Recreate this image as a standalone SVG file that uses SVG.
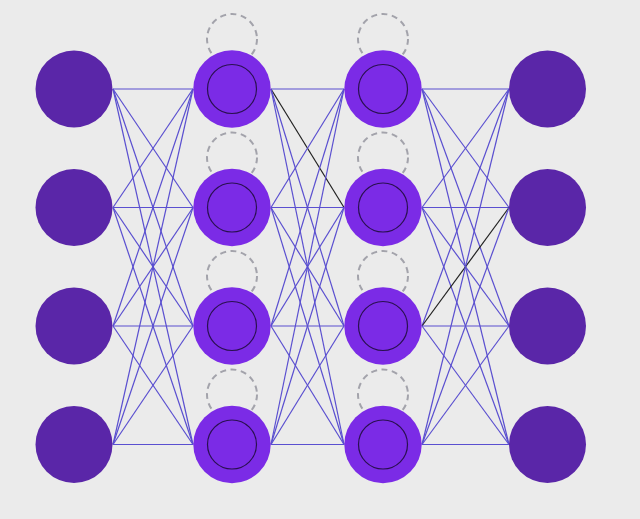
<svg xmlns="http://www.w3.org/2000/svg" width="640" height="519" viewBox="0 0 640 519">
<style>
.bg{fill:#ebebeb}
.io{fill:#5a26a8}
.hid{fill:#7b2be6}
.inner{fill:none;stroke:#2a1050;stroke-width:1.2}
.loop{fill:none;stroke:#a3a3ab;stroke-width:2;stroke-dasharray:6 4.5}
.c{stroke:#5a4fd0;stroke-width:1.2;fill:none}
.k{stroke:#222222;stroke-width:1.2;fill:none}
</style>
<rect class="bg" x="0" y="0" width="640" height="519"/>
<g id="connectors">
<g id="l1">
<line class="c" x1="113" y1="89" x2="193" y2="89"/>
<line class="c" x1="113" y1="89" x2="193" y2="207.5"/>
<line class="c" x1="113" y1="89" x2="193" y2="326"/>
<line class="c" x1="113" y1="89" x2="193" y2="444.5"/>
<line class="c" x1="113" y1="207.5" x2="193" y2="89"/>
<line class="c" x1="113" y1="207.5" x2="193" y2="207.5"/>
<line class="c" x1="113" y1="207.5" x2="193" y2="326"/>
<line class="c" x1="113" y1="207.5" x2="193" y2="444.5"/>
<line class="c" x1="113" y1="326" x2="193" y2="89"/>
<line class="c" x1="113" y1="326" x2="193" y2="207.5"/>
<line class="c" x1="113" y1="326" x2="193" y2="326"/>
<line class="c" x1="113" y1="326" x2="193" y2="444.5"/>
<line class="c" x1="113" y1="444.5" x2="193" y2="89"/>
<line class="c" x1="113" y1="444.5" x2="193" y2="207.5"/>
<line class="c" x1="113" y1="444.5" x2="193" y2="326"/>
<line class="c" x1="113" y1="444.5" x2="193" y2="444.5"/>
</g>
<g id="l2">
<line class="c" x1="271" y1="89" x2="344" y2="89"/>
<line class="k" x1="271" y1="89" x2="344" y2="207.5"/>
<line class="c" x1="271" y1="89" x2="344" y2="326"/>
<line class="c" x1="271" y1="89" x2="344" y2="444.5"/>
<line class="c" x1="271" y1="207.5" x2="344" y2="89"/>
<line class="c" x1="271" y1="207.5" x2="344" y2="207.5"/>
<line class="c" x1="271" y1="207.5" x2="344" y2="326"/>
<line class="c" x1="271" y1="207.5" x2="344" y2="444.5"/>
<line class="c" x1="271" y1="326" x2="344" y2="89"/>
<line class="c" x1="271" y1="326" x2="344" y2="207.5"/>
<line class="c" x1="271" y1="326" x2="344" y2="326"/>
<line class="c" x1="271" y1="326" x2="344" y2="444.5"/>
<line class="c" x1="271" y1="444.5" x2="344" y2="89"/>
<line class="c" x1="271" y1="444.5" x2="344" y2="207.5"/>
<line class="c" x1="271" y1="444.5" x2="344" y2="326"/>
<line class="c" x1="271" y1="444.5" x2="344" y2="444.5"/>
</g>
<g id="l3">
<line class="c" x1="422" y1="89" x2="509" y2="89"/>
<line class="c" x1="422" y1="89" x2="509" y2="207.5"/>
<line class="c" x1="422" y1="89" x2="509" y2="326"/>
<line class="c" x1="422" y1="89" x2="509" y2="444.5"/>
<line class="c" x1="422" y1="207.5" x2="509" y2="89"/>
<line class="c" x1="422" y1="207.5" x2="509" y2="207.5"/>
<line class="c" x1="422" y1="207.5" x2="509" y2="326"/>
<line class="c" x1="422" y1="207.5" x2="509" y2="444.5"/>
<line class="c" x1="422" y1="326" x2="509" y2="89"/>
<line class="k" x1="422" y1="326" x2="509" y2="207.5"/>
<line class="c" x1="422" y1="326" x2="509" y2="326"/>
<line class="c" x1="422" y1="326" x2="509" y2="444.5"/>
<line class="c" x1="422" y1="444.5" x2="509" y2="89"/>
<line class="c" x1="422" y1="444.5" x2="509" y2="207.5"/>
<line class="c" x1="422" y1="444.5" x2="509" y2="326"/>
<line class="c" x1="422" y1="444.5" x2="509" y2="444.5"/>
</g>
</g>
<g id="input">
<g id="in1"><circle class="io" cx="74" cy="89" r="38.5"/></g>
<g id="in2"><circle class="io" cx="74" cy="207.5" r="38.5"/></g>
<g id="in3"><circle class="io" cx="74" cy="326" r="38.5"/></g>
<g id="in4"><circle class="io" cx="74" cy="444.5" r="38.5"/></g>
</g>
<g id="hidden1">
<g id="h1a"><circle class="loop" cx="232" cy="39" r="25"/><circle class="hid" cx="232" cy="89" r="38.7"/><circle class="inner" cx="232" cy="89" r="24.5"/></g>
<g id="h1b"><circle class="loop" cx="232" cy="157.5" r="25"/><circle class="hid" cx="232" cy="207.5" r="38.7"/><circle class="inner" cx="232" cy="207.5" r="24.5"/></g>
<g id="h1c"><circle class="loop" cx="232" cy="276" r="25"/><circle class="hid" cx="232" cy="326" r="38.7"/><circle class="inner" cx="232" cy="326" r="24.5"/></g>
<g id="h1d"><circle class="loop" cx="232" cy="394.5" r="25"/><circle class="hid" cx="232" cy="444.5" r="38.7"/><circle class="inner" cx="232" cy="444.5" r="24.5"/></g>
</g>
<g id="hidden2">
<g id="h2a"><circle class="loop" cx="383" cy="39" r="25"/><circle class="hid" cx="383" cy="89" r="38.7"/><circle class="inner" cx="383" cy="89" r="24.5"/></g>
<g id="h2b"><circle class="loop" cx="383" cy="157.5" r="25"/><circle class="hid" cx="383" cy="207.5" r="38.7"/><circle class="inner" cx="383" cy="207.5" r="24.5"/></g>
<g id="h2c"><circle class="loop" cx="383" cy="276" r="25"/><circle class="hid" cx="383" cy="326" r="38.7"/><circle class="inner" cx="383" cy="326" r="24.5"/></g>
<g id="h2d"><circle class="loop" cx="383" cy="394.5" r="25"/><circle class="hid" cx="383" cy="444.5" r="38.7"/><circle class="inner" cx="383" cy="444.5" r="24.5"/></g>
</g>
<g id="output">
<g id="out1"><circle class="io" cx="547.5" cy="89" r="38.5"/></g>
<g id="out2"><circle class="io" cx="547.5" cy="207.5" r="38.5"/></g>
<g id="out3"><circle class="io" cx="547.5" cy="326" r="38.5"/></g>
<g id="out4"><circle class="io" cx="547.5" cy="444.5" r="38.5"/></g>
</g>
</svg>
